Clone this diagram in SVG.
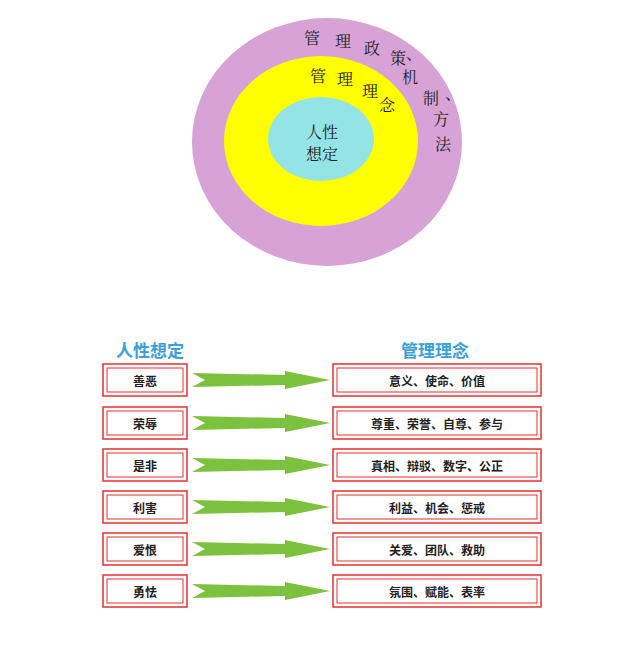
<svg xmlns="http://www.w3.org/2000/svg" width="640" height="657" viewBox="0 0 640 657">
<style>
text{font-family:"Noto Sans CJK SC",sans-serif;text-anchor:middle;dominant-baseline:central}
.s{font-family:"Noto Serif CJK SC","Noto Sans CJK SC",serif;font-size:16px;fill:#222}
.b{fill:#fff;stroke:#e8312f;stroke-width:1.5}
.i{fill:none;stroke:#e8312f;stroke-width:1}
.t{font-size:12px;font-weight:bold;fill:#222}
.h{font-size:17px;font-weight:bold;fill:#3aa0d8}
.a{fill:#7cc23f}
</style>
<rect width="640" height="657" fill="#fff"/>
<g id="circles">
<ellipse cx="327" cy="142" rx="135" ry="124" fill="#d7a2d6"/>
<ellipse cx="321" cy="141" rx="97" ry="85" fill="#ffff00"/>
<ellipse cx="321" cy="139" rx="53" ry="42" fill="#94e4e6"/>
<text class="s" x="312" y="37">管</text><text class="s" x="343" y="40">理</text><text class="s" x="372" y="47">政</text><text class="s" x="398" y="57">策</text><text class="s" x="414" y="52">、</text>
<text class="s" x="410" y="76">机</text><text class="s" x="431" y="97">制</text><text class="s" x="453" y="92">、</text><text class="s" x="441" y="118">方</text><text class="s" x="443" y="143">法</text>
<text class="s" x="318" y="75">管</text><text class="s" x="345" y="78">理</text><text class="s" x="370" y="90">理</text><text class="s" x="387" y="104">念</text>
<text class="s" x="322" y="131">人性</text><text class="s" x="322" y="153">想定</text>
</g>
<text class="h" x="150" y="349">人性想定</text>
<text class="h" x="435" y="349">管理理念</text>
<defs>
<g id="ar"><polygon class="a" points="192,-7 285,-5 285,-9 330,0 285,9 285,5 192,7 205,0"/></g>
<g id="lb"><rect class="b" x="103" y="-16" width="84" height="32"/><rect class="i" x="107" y="-12" width="76" height="24"/></g>
<g id="rb"><rect class="b" x="333" y="-16" width="208" height="32"/><rect class="i" x="337" y="-12" width="200" height="24"/></g>
</defs>
<g id="connectors">
<use href="#ar" y="380"/><use href="#ar" y="423"/><use href="#ar" y="465"/><use href="#ar" y="507"/><use href="#ar" y="549"/><use href="#ar" y="591"/>
</g>
<g id="n1"><use href="#lb" y="380"/><text class="t" x="145" y="380">善恶</text></g>
<g id="n2"><use href="#lb" y="423"/><text class="t" x="145" y="423">荣辱</text></g>
<g id="n3"><use href="#lb" y="465"/><text class="t" x="145" y="465">是非</text></g>
<g id="n4"><use href="#lb" y="507"/><text class="t" x="145" y="507">利害</text></g>
<g id="n5"><use href="#lb" y="549"/><text class="t" x="145" y="549">爱恨</text></g>
<g id="n6"><use href="#lb" y="591"/><text class="t" x="145" y="591">勇怯</text></g>
<g id="m1"><use href="#rb" y="380"/><text class="t" x="437" y="380">意义、使命、价值</text></g>
<g id="m2"><use href="#rb" y="423"/><text class="t" x="437" y="423">尊重、荣誉、自尊、参与</text></g>
<g id="m3"><use href="#rb" y="465"/><text class="t" x="437" y="465">真相、辩驳、数字、公正</text></g>
<g id="m4"><use href="#rb" y="507"/><text class="t" x="437" y="507">利益、机会、惩戒</text></g>
<g id="m5"><use href="#rb" y="549"/><text class="t" x="437" y="549">关爱、团队、救助</text></g>
<g id="m6"><use href="#rb" y="591"/><text class="t" x="437" y="591">氛围、赋能、表率</text></g>
</svg>
